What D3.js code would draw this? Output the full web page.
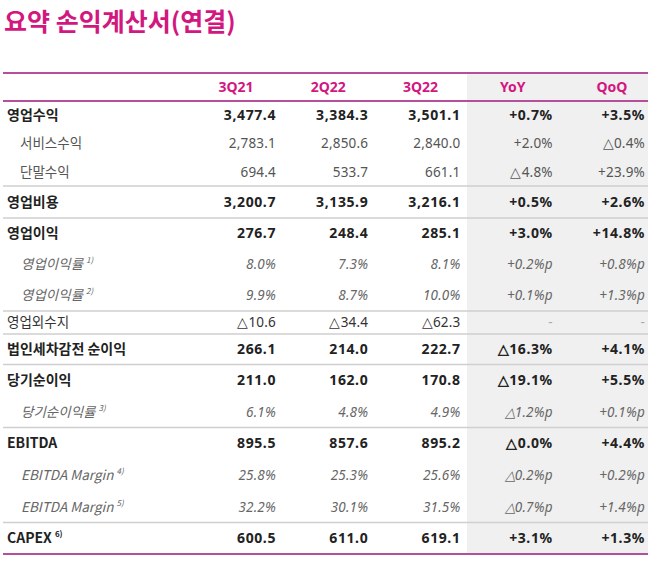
<!DOCTYPE html>
<html><head><meta charset="utf-8">
<script src="https://cdn.jsdelivr.net/npm/d3@7/dist/d3.min.js"></script>
<style>
html,body{margin:0;padding:0;background:#fff;}
svg{display:block;font-family:"Noto Sans CJK KR","Noto Sans",sans-serif;}
</style></head>
<body><svg id="c" width="658" height="565"></svg>
<script>
// ---- data ----
const title = "요약 손익계산서(연결)";
const columns = ["3Q21","2Q22","3Q22","YoY","QoQ"];
const labels = ["영업수익","서비스수익","단말수익","영업비용","영업이익","영업이익률","영업이익률","영업외수지","법인세차감전 순이익","당기순이익","당기순이익률","EBITDA","EBITDA Margin","EBITDA Margin","CAPEX"];
const notes  = ["","","","","","1)","2)","","","","3)","","4)","5)","6)"];
const rowStyle = ["bold","sub","sub","bold","bold","italic","italic","plain","bold","bold","italic","bold","italic","italic","bold"];
const v3Q21 = ["3,477.4","2,783.1","694.4","3,200.7","276.7","8.0%","9.9%","△10.6","266.1","211.0","6.1%","895.5","25.8%","32.2%","600.5"];
const v2Q22 = ["3,384.3","2,850.6","533.7","3,135.9","248.4","7.3%","8.7%","△34.4","214.0","162.0","4.8%","857.6","25.3%","30.1%","611.0"];
const v3Q22 = ["3,501.1","2,840.0","661.1","3,216.1","285.1","8.1%","10.0%","△62.3","222.7","170.8","4.9%","895.2","25.6%","31.5%","619.1"];
const yoy   = ["+0.7%","+2.0%","△4.8%","+0.5%","+3.0%","+0.2%p","+0.1%p","-","△16.3%","△19.1%","△1.2%p","△0.0%","△0.2%p","△0.7%p","+3.1%"];
const qoq   = ["+3.5%","△0.4%","+23.9%","+2.6%","+14.8%","+0.8%p","+1.3%p","-","+4.1%","+5.5%","+0.1%p","+4.4%","+0.2%p","+1.4%p","+1.3%"];
// rows after which a separator line is drawn
const groupEnds = [2,3,6,7,8,10,13];

// ---- layout ----
const rowUnits = [28.3,28.3,28.3,32,31,31,31,23,30.5,31.5,31.5,31.7,31.7,31.7,31.5];
const valueCols = [v3Q21,v2Q22,v3Q22,yoy,qoq];
const svg = d3.select("#c");
const magenta = "#d2177f";
const lineCol = "#b54f9c";
const tableLeft = 3, tableRight = 648;
const topLine = 73, headBottom = 101;

const x = d3.scalePoint().domain(columns).range([276,645]);
const cum = [0]; rowUnits.forEach((h,i)=>cum.push(cum[i]+h));
const y = d3.scaleLinear().domain([0,cum[cum.length-1]]).range([headBottom, headBottom+cum[cum.length-1]]);
const bottomY = y(cum[cum.length-1]);

// title
svg.append("text").attr("x",4).attr("y",31).attr("fill",magenta)
  .attr("font-size",25).attr("font-weight",700).text(title);

// gray band
svg.append("rect").attr("x",467).attr("y",topLine).attr("width",tableRight-467).attr("height",bottomY-topLine).attr("fill","#f0f0f0");

// headers
svg.selectAll("text.h").data(columns).join("text").attr("class","h")
  .attr("x",d=>x(d)-(d==="QoQ"?33:40)).attr("y",(topLine+headBottom)/2+5)
  .attr("text-anchor","middle").attr("fill",magenta).attr("font-size",14).attr("font-weight",700)
  .attr("font-family","'Noto Sans',sans-serif").text(d=>d);

// lines
[topLine, headBottom, bottomY].forEach(v=>{
  svg.append("line").attr("x1",tableLeft).attr("x2",tableRight).attr("y1",v).attr("y2",v)
    .attr("stroke",lineCol).attr("stroke-width",2);
});
groupEnds.forEach(i=>{
  const v = y(cum[i+1]);
  svg.append("line").attr("x1",tableLeft).attr("x2",tableRight).attr("y1",v).attr("y2",v)
    .attr("stroke","#cfcfcf").attr("stroke-width",1.5);
});

const styleOf = {
  bold:  {x:7,  size:14, weight:700, italic:false, col:"#222"},
  sub:   {x:20, size:13.5, weight:400, italic:false, col:"#555"},
  italic:{x:21, size:13.5, weight:400, italic:true,  col:"#666"},
  plain: {x:7,  size:13.5, weight:400, italic:false, col:"#333"}
};

labels.forEach((lab,i)=>{
  const s = styleOf[rowStyle[i]];
  const cy = y((cum[i]+cum[i+1])/2) + 5;
  const t = svg.append("text").attr("x",s.x).attr("y",cy).attr("fill",s.col)
    .attr("font-size",s.size).attr("font-weight",s.weight)
    .attr("font-style",s.italic?"italic":"normal").text(lab);
  if (notes[i]) {
    t.append("tspan").attr("dx",3).attr("dy",-6).attr("font-size",8).text(notes[i]);
  }
  valueCols.forEach((arr,j)=>{
    svg.append("text").attr("x",x(columns[j])).attr("y",cy)
      .attr("text-anchor","end").attr("fill",arr[i]==="-"?"#aaa":s.col)
      .attr("font-family","'Noto Sans',sans-serif")
      .attr("font-size",s.size).attr("font-weight",s.weight)
      .attr("letter-spacing", s.weight===700?0.6:0.2)
      .attr("font-style",s.italic?"italic":"normal").text(arr[i]);
  });
});
</script></body></html>
